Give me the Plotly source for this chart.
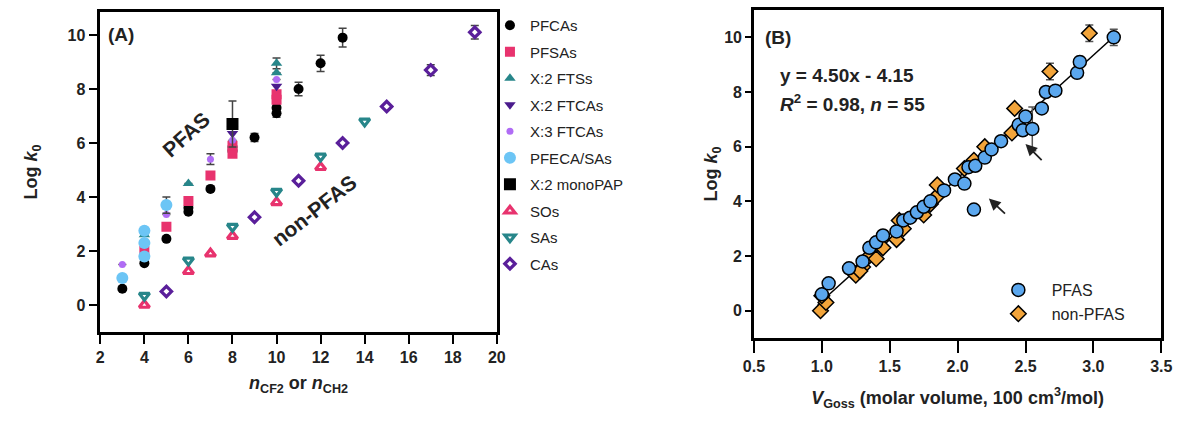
import plotly.graph_objects as go

# ---------------- Panel A data ----------------
pfca_x = [3, 4, 5, 6, 6, 7, 8, 8, 9, 10, 10, 11, 12, 13]
pfca_y = [0.6, 1.55, 2.45, 3.45, 3.6, 4.3, 5.7, 5.85, 6.2, 7.1, 7.3, 8.0, 8.95, 9.9]
pfca_e = [0, 0, 0, 0, 0, 0, 0, 0, 0.15, 0.15, 0, 0.25, 0.3, 0.35]

pfsa_x = [4, 5, 6, 7, 8, 8, 10, 10]
pfsa_y = [2.0, 2.9, 3.85, 4.8, 5.6, 5.9, 7.6, 7.8]

fts_x = [4, 6, 8, 10, 10]
fts_y = [2.6, 4.5, 6.7, 8.6, 8.95]
fts_e = [0, 0, 0, 0, 0.2]

ftca_x = [8, 10]
ftca_y = [6.35, 8.1]

x3ftca_x = [3, 5, 7, 8, 10]
x3ftca_y = [1.5, 3.35, 5.4, 6.1, 8.35]
x3ftca_e = [0, 0, 0.2, 0, 0]

pfeca_x = [3, 4, 4, 4, 5]
pfeca_y = [1.0, 2.75, 2.3, 1.8, 3.7]
pfeca_e = [0, 0, 0, 0, 0.3]

pap_x = [8]
pap_y = [6.7]
pap_e = [0.85]

so_x = [4, 6, 7, 8, 10, 12]
so_y = [0.0, 1.25, 1.9, 2.55, 3.8, 5.1]

sa_x = [4, 6, 8, 10, 12, 14]
sa_y = [0.35, 1.65, 2.9, 4.2, 5.5, 6.8]

ca_x = [5, 9, 11, 13, 15, 17, 19]
ca_y = [0.5, 3.25, 4.6, 6.0, 7.35, 8.7, 10.1]
ca_e = [0, 0, 0, 0, 0, 0.2, 0.25]

# ---------------- Panel B data ----------------
pfas_v = [1.0, 1.05, 1.2, 1.3, 1.35, 1.4, 1.45, 1.55, 1.6, 1.65, 1.7, 1.75,
          1.8, 1.9, 1.98, 2.05, 2.08, 2.13, 2.2, 2.25, 2.32, 2.12, 2.45, 2.5,
          2.48, 2.55, 2.62, 2.65, 2.72, 2.88, 2.9, 3.15]
pfas_y = [0.6, 1.0, 1.55, 1.8, 2.3, 2.5, 2.75, 2.9, 3.3, 3.4, 3.6, 3.8,
          4.0, 4.4, 4.8, 4.65, 5.25, 5.3, 5.6, 5.9, 6.2, 3.7, 6.8, 7.1,
          6.6, 6.65, 7.4, 8.0, 8.05, 8.7, 9.1, 10.0]
pfas_e = [0, 0, 0, 0, 0, 0, 0, 0, 0, 0, 0, 0,
          0, 0, 0, 0, 0, 0, 0, 0, 0, 0, 0, 0,
          0, 0.8, 0, 0, 0, 0, 0.2, 0.3]

non_v = [0.99, 1.03, 1.0, 1.25, 1.3, 1.35, 1.4, 1.45, 1.55, 1.6, 1.57,
         1.75, 1.8, 1.85, 1.85, 2.05, 2.12, 2.2, 2.4, 2.42, 2.68, 2.97, 1.28]
non_y = [0.0, 0.3, 0.55, 1.3, 1.6, 2.0, 1.9, 2.3, 2.6, 3.0, 3.3,
         3.5, 3.9, 4.2, 4.6, 5.2, 5.5, 6.0, 6.5, 7.4, 8.75, 10.15, 1.45]
non_e = [0, 0, 0, 0, 0, 0, 0, 0, 0, 0, 0,
         0, 0, 0, 0, 0, 0, 0, 0, 0, 0.3, 0.3, 0]

fit_slope = 4.50
fit_intercept = -4.15
fit_x = [0.97, 3.17]
fit_y = [fit_slope * v + fit_intercept for v in fit_x]

PINK = "#e8336e"
TEAL = "#27868a"
DPURP = "#4a1b8c"
LPURP = "#b06cf5"
LBLUE = "#6cc5f5"
CAPURP = "#5a1f9a"
BLUE_B = "#5ba7ee"
ORANGE_B = "#f2a43a"
FONT = "Liberation Sans, Arial"
NB = "\u00a0"

fig = go.Figure()


def err(arr, color="black"):
    return dict(type="data", array=arr, visible=True, color=color, thickness=1.5, width=4)


def add_a(name, x, y, symbol, color, size=10, e=None, line=None):
    marker = dict(symbol=symbol, color=color, size=size)
    if line is not None:
        marker["line"] = line
    fig.add_trace(go.Scatter(
        x=x, y=y, mode="markers", name=name, marker=marker,
        error_y=err(e, "#444") if e is not None else None,
        xaxis="x", yaxis="y", legend="legend", legendgroup=name,
    ))


add_a("PFCAs", pfca_x, pfca_y, "circle", "black", 10, pfca_e)
add_a("PFSAs", pfsa_x, pfsa_y, "square", PINK, 10)
add_a("X:2 FTSs", fts_x, fts_y, "triangle-up", TEAL, 10, fts_e)
add_a("X:2 FTCAs", ftca_x, ftca_y, "triangle-down", DPURP, 10)
add_a("X:3 FTCAs", x3ftca_x, x3ftca_y, "circle", LPURP, 7, x3ftca_e)
add_a("PFECA/SAs", pfeca_x, pfeca_y, "circle", LBLUE, 12, pfeca_e)
add_a("X:2 monoPAP", pap_x, pap_y, "square", "black", 12, pap_e)
add_a("SOs", so_x, so_y, "triangle-up", "white", 9, line=dict(color=PINK, width=3.2))
add_a("SAs", sa_x, sa_y, "triangle-down", "white", 9, line=dict(color=TEAL, width=3.2))
add_a("CAs", ca_x, ca_y, "diamond", "white", 8, ca_e, line=dict(color=CAPURP, width=3.2))

# Panel B
fig.add_trace(go.Scatter(x=fit_x, y=fit_y, mode="lines", line=dict(color="black", width=1.5),
                         showlegend=False, xaxis="x2", yaxis="y2", hoverinfo="skip"))
fig.add_trace(go.Scatter(
    x=non_v, y=non_y, mode="markers", name=NB * 3 + "non-PFAS",
    marker=dict(symbol="diamond", color=ORANGE_B, size=12, line=dict(color="black", width=1.5)),
    error_y=err(non_e, "#555"), xaxis="x2", yaxis="y2", legend="legend2"))
fig.add_trace(go.Scatter(
    x=pfas_v, y=pfas_y, mode="markers", name=NB * 3 + "PFAS",
    marker=dict(symbol="circle", color=BLUE_B, size=13, line=dict(color="black", width=1.5)),
    error_y=err(pfas_e, "#555"), xaxis="x2", yaxis="y2", legend="legend2"))

W, H = 1187, 422


def px(v):
    return v / W


def py(v):
    return 1 - v / H


def axis_style(ticklen=9):
    return dict(showgrid=False, zeroline=False, showline=True, linecolor="black", linewidth=2.5,
                mirror=True, ticks="outside", ticklen=ticklen, tickwidth=2, tickcolor="black",
                tickfont=dict(family=FONT, size=16, color="#222", weight="bold"))


title_font = dict(family=FONT, size=18, color="#222")

fig.update_layout(
    width=W, height=H, margin=dict(l=0, r=0, t=0, b=0),
    paper_bgcolor="white", plot_bgcolor="white",
    xaxis=dict(domain=[px(91), px(495)], range=[2, 20], tickvals=list(range(2, 21, 2)),
               anchor="y",
               title=dict(text="<b><i>n</i><sub>CF2</sub> or <i>n</i><sub>CH2</sub></b>",
                          font=title_font, standoff=12),
               **axis_style(9)),
    yaxis=dict(domain=[py(332), py(12)], range=[-1, 10.85], tickvals=list(range(0, 11, 2)),
               anchor="x",
               title=dict(text="<b>Log <i>k</i><sub>0</sub></b>", font=title_font, standoff=26),
               **axis_style(9)),
    xaxis2=dict(domain=[px(757), px(1172)], range=[0.5, 3.5], tickvals=[0.5, 1.0, 1.5, 2.0, 2.5, 3.0, 3.5],
                ticktext=["0.5", "1.0", "1.5", "2.0", "2.5", "3.0", "3.5"], anchor="y2",
                title=dict(text="<b><i>V</i><sub>Goss</sub> (molar volume, 100 cm<sup>3</sup>/mol)</b>",
                           font=title_font, standoff=18),
                **axis_style(12)),
    yaxis2=dict(domain=[py(338), py(10)], range=[-1, 11], tickvals=list(range(0, 11, 2)), anchor="x2",
                title=dict(text="<b>Log <i>k</i><sub>0</sub></b>", font=title_font, standoff=2),
                **axis_style(6)),
    legend=dict(x=px(488), y=py(9), xanchor="left", yanchor="top", tracegroupgap=4,
                font=dict(family=FONT, size=15, color="#222"),
                bgcolor="rgba(0,0,0,0)"),
    legend2=dict(x=px(1006), y=py(273), xanchor="left", yanchor="top", tracegroupgap=6,
                 traceorder="reversed",
                 font=dict(family=FONT, size=16, color="#222"),
                 bgcolor="rgba(0,0,0,0)"),
    showlegend=True,
)

txt_font = dict(family=FONT, size=19, color="#222")
fig.add_annotation(text="<b>(A)</b>", x=2.25, y=10.0, xref="x", yref="y", showarrow=False,
                   xanchor="left", font=txt_font)
fig.add_annotation(text="<b>PFAS</b>", x=5.9, y=6.3, xref="x", yref="y", showarrow=False,
                   textangle=-42, font=dict(family=FONT, size=21, color="#222"))
fig.add_annotation(text="<b>non-PFAS</b>", x=11.7, y=3.5, xref="x", yref="y", showarrow=False,
                   textangle=-38, font=dict(family=FONT, size=21, color="#222"))

fig.add_annotation(text="<b>(B)</b>", x=0.57, y=10.0, xref="x2", yref="y2", showarrow=False,
                   xanchor="left", font=txt_font)
fig.add_annotation(text="<b>y = 4.50x - 4.15</b>", x=0.68, y=8.6, xref="x2", yref="y2", showarrow=False,
                   xanchor="left", font=dict(family=FONT, size=19, color="#222"))
fig.add_annotation(text="<b><i>R</i><sup>2</sup> = 0.98, <i>n</i> = 55</b>", x=0.68, y=7.6, xref="x2", yref="y2",
                   showarrow=False, xanchor="left", font=dict(family=FONT, size=19, color="#222"))

# arrows
fig.add_annotation(x=2.5, y=6.1, ax=2.63, ay=5.45, xref="x2", yref="y2", axref="x2", ayref="y2",
                   text="", showarrow=True, arrowhead=2, arrowsize=1.3, arrowwidth=1.8, arrowcolor="#222")
fig.add_annotation(x=2.23, y=4.1, ax=2.36, ay=3.5, xref="x2", yref="y2", axref="x2", ayref="y2",
                   text="", showarrow=True, arrowhead=2, arrowsize=1.3, arrowwidth=1.8, arrowcolor="#222")

fig.write_html("out.html")
